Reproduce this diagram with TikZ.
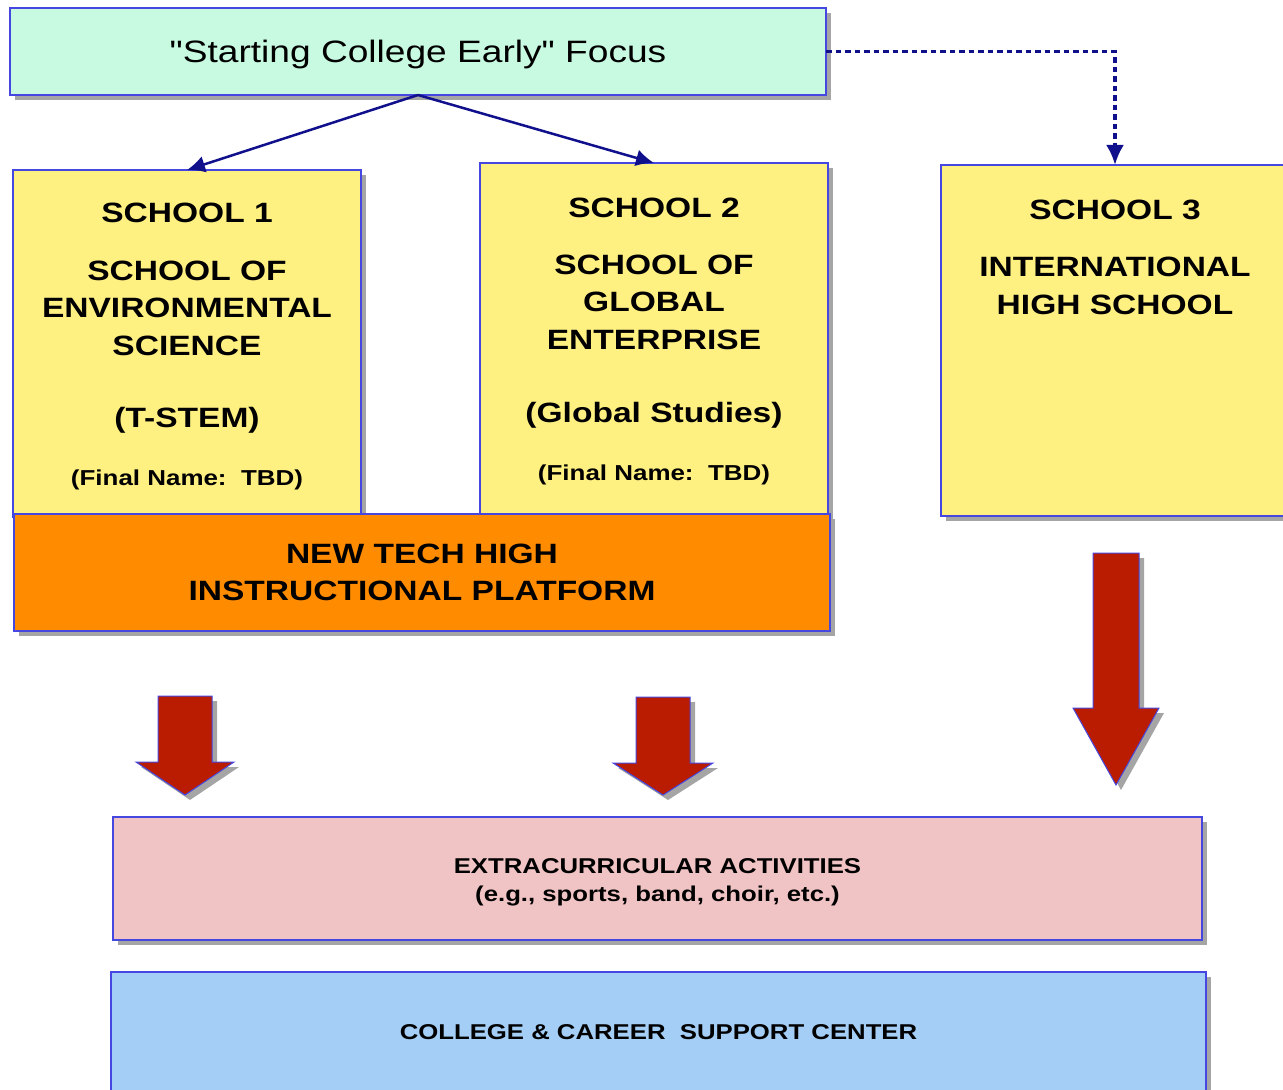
\documentclass[tikz,border=0pt]{standalone}
\usepackage{fontspec}
\setmainfont{Liberation Sans}[FakeStretch=1.2]
\newfontfamily\plainfont{Liberation Sans}[FakeStretch=1.2]
\usetikzlibrary{arrows.meta,shadows}
\definecolor{mint}{RGB}{200,250,225}
\definecolor{paleyellow}{RGB}{255,240,130}
\definecolor{platform}{RGB}{255,140,0}
\definecolor{pink}{RGB}{240,196,196}
\definecolor{skyblue}{RGB}{164,206,245}
\definecolor{brick}{RGB}{185,28,0}
\definecolor{rim}{RGB}{70,70,225}
\definecolor{navy}{RGB}{16,16,140}
\definecolor{shade}{RGB}{165,165,165}
\tikzset{
  box/.style={draw=rim, line width=0.3mm, inner sep=0, outer sep=0,
    drop shadow={shadow xshift=1mm, shadow yshift=-1mm, fill=shade, opacity=1}},
  hd/.style={font=\fontsize{15.9}{21.3}\selectfont\bfseries, align=center, inner sep=0},
  sm/.style={font=\fontsize{12.3}{16}\selectfont\bfseries, align=center, inner sep=0},
  link/.style={draw=navy, line width=0.5mm, -{Latex[length=3.6mm, width=3.4mm]}},
  dots/.style={draw=navy, line width=0.7mm, dash pattern=on 1.1mm off 0.8mm,
    -{Latex[length=4mm, width=3.6mm]}},
  bigarrow/.style={fill=brick, draw=rim, line width=0.2mm,
    drop shadow={shadow xshift=1mm, shadow yshift=-1mm, fill=shade, opacity=1}}
}
\begin{document}
\begin{tikzpicture}[x=0.2mm, y=-0.2mm]
  \useasboundingbox (0,0) rectangle (1283,1090);
  \clip (0,0) rectangle (1283,1090);

  % focus
  \node[box, fill=mint, minimum width=163.2mm, minimum height=17.4mm, text depth=0pt,
    font=\plainfont\fontsize{17.6}{21}\selectfont] (top) at (418,51.5) {"Starting College Early" Focus};

  % schools
  \node[box, fill=paleyellow, minimum width=69.6mm, minimum height=69.4mm] (s1) at (187,343.5) {};
  \node[box, fill=paleyellow, minimum width=69.6mm, minimum height=70.4mm] (s2) at (654,339) {};
  \node[box, fill=paleyellow, minimum width=69.6mm, minimum height=70.2mm] (s3) at (1115,340.5) {};

  \node[hd] (s1a) at (187,213) {SCHOOL 1};
  \node[hd] (s1b) at (187,308) {SCHOOL OF\\ENVIRONMENTAL\\SCIENCE};
  \node[hd] (s1c) at (187,420) {(T-STEM)};
  \node[sm] (s1d) at (187,480) {(Final Name:\ \ TBD)};

  \node[hd] (s2a) at (654,208) {SCHOOL 2};
  \node[hd] (s2b) at (654,302) {SCHOOL OF\\GLOBAL\\ENTERPRISE};
  \node[hd] (s2c) at (654,415) {(Global Studies)};
  \node[sm] (s2d) at (654,475) {(Final Name:\ \ TBD)};

  \node[hd] (s3a) at (1115,210) {SCHOOL 3};
  \node[hd] (s3b) at (1115,286) {INTERNATIONAL\\HIGH SCHOOL};

  \node[box, fill=platform, minimum width=163.2mm, minimum height=23.4mm, hd,
    inner sep=0] (plat) at (422,572.5) {NEW TECH HIGH\\INSTRUCTIONAL PLATFORM};

  \path
  (top.south) edge[link] (s1.north)
  (top.south) edge[link] (s2.north);
  \draw[dots] (top.east) -| (s3.north);

  % block arrows
  \foreach \c/\s/\t/\h/\w/\p in {185/27/696/762/49/795, 663/27/697/763/50/795,
      1116/23/553/708/43/785}
    \draw[bigarrow] ({\c-\s},\t) -- ({\c+\s},\t) -- ({\c+\s},\h) -- ({\c+\w},\h)
      -- (\c,\p) -- ({\c-\w},\h) -- ({\c-\s},\h) -- cycle;

  \node[box, fill=pink, minimum width=217.8mm, minimum height=24.6mm, sm,
    font=\fontsize{12.2}{16}\selectfont\bfseries] (extra) at (657.5,878.5)
    {\\[-1.1mm]EXTRACURRICULAR ACTIVITIES\\(e.g., sports, band, choir, etc.)};
  \node[box, fill=skyblue, minimum width=219mm, minimum height=24mm, text depth=0pt,
    font=\fontsize{12.2}{16}\selectfont\bfseries] (care) at (658.5,1032)
    {COLLEGE \& CAREER\ \ SUPPORT CENTER};
\end{tikzpicture}
\end{document}
